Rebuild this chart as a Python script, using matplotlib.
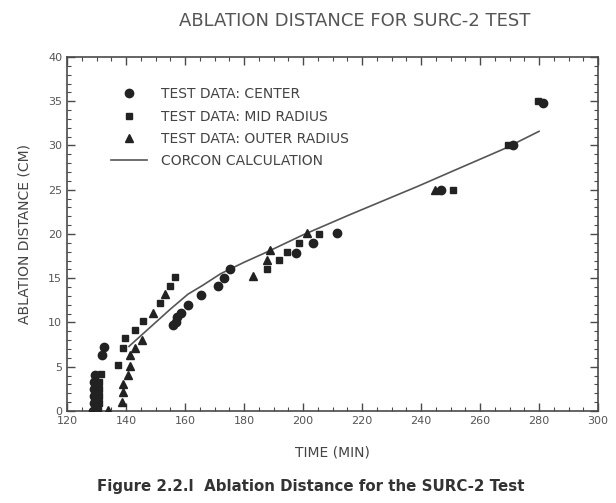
import matplotlib
matplotlib.use("Agg")
import matplotlib.pyplot as plt
from matplotlib.ticker import MultipleLocator

# Test data: center thermocouple (time in min, ablation distance in cm)
center_t = [128.8, 129.0, 129.0, 129.2, 129.3, 129.5, 131.8, 132.5,
            156.0, 156.8, 157.4, 158.5, 161.1, 165.4, 171.3, 173.3, 175.3,
            197.6, 203.3, 211.4, 246.9, 271.3, 281.5]
center_d = [0.0, 0.9, 1.7, 2.5, 3.3, 4.1, 6.3, 7.2,
            9.7, 10.1, 10.6, 11.1, 12.0, 13.1, 14.1, 15.0, 16.0,
            17.8, 19.0, 20.1, 25.0, 30.0, 34.8]

# Test data: mid radius
mid_t = [130.6, 130.8, 130.8, 130.8, 131.0, 131.5, 137.4, 139.1, 139.7,
         143.1, 145.9, 151.5, 154.9, 156.6,
         187.7, 192.0, 194.5, 198.7, 205.5, 250.8, 269.6, 279.8]
mid_d = [0.1, 0.9, 1.7, 2.5, 3.3, 4.2, 5.2, 7.1, 8.2,
         9.15, 10.2, 12.2, 14.1, 15.1,
         16.0, 17.1, 18.0, 19.0, 20.0, 25.0, 30.0, 35.0]

# Test data: outer radius
outer_t = [133.8, 138.5, 139.1, 139.1, 140.8, 141.4, 141.4, 143.1, 145.3,
           149.3, 153.2, 183.2, 187.7, 188.8, 201.2, 244.7]
outer_d = [0.1, 1.05, 2.2, 3.1, 4.1, 5.1, 6.3, 7.1, 8.0,
           11.1, 13.2, 15.2, 17.1, 18.2, 20.1, 25.0]

# CORCON calculation
calc_t = [141, 148, 155, 161, 166, 172, 180, 188, 200, 216, 239, 250, 268, 280]
calc_d = [7.3, 9.4, 11.5, 13.2, 14.2, 15.5, 16.8, 18.0, 19.9, 22.2, 25.4, 27.0, 29.6, 31.6]

x_ticks = [120, 140, 160, 180, 200, 220, 240, 260, 280, 300]
y_ticks = [0, 5, 10, 15, 20, 25, 30, 35, 40]

ink = "#222222"
gray = "#4a4a4a"

fig = plt.figure(figsize=(6.16, 5.03), dpi=100)
fig.patch.set_facecolor("white")
ax = fig.add_axes([0.1088, 0.1829, 0.862, 0.7038])

ax.plot(calc_t, calc_d, color="#555555", lw=1.2, label="CORCON CALCULATION", zorder=2)
ax.plot(center_t, center_d, "o", ms=6, color=ink, mec=ink, ls="none",
        label="TEST DATA: CENTER", zorder=3)
ax.plot(mid_t, mid_d, "s", ms=4.6, color=ink, mec=ink, ls="none",
        label="TEST DATA: MID RADIUS", zorder=3)
ax.plot(outer_t, outer_d, "^", ms=5.5, color=ink, mec=ink, ls="none",
        label="TEST DATA: OUTER RADIUS", zorder=3)

ax.set_xlim(120, 300)
ax.set_ylim(0, 40)
ax.set_xticks(x_ticks)
ax.set_yticks(y_ticks)
ax.xaxis.set_minor_locator(MultipleLocator(5))
ax.yaxis.set_minor_locator(MultipleLocator(1))
ax.tick_params(which="both", direction="in", top=True, right=True,
               colors=gray, labelcolor="#555555", labelsize=8)
ax.tick_params(which="major", length=6, width=1)
ax.tick_params(which="minor", length=3, width=0.8)
for s in ax.spines.values():
    s.set_color(gray)
    s.set_linewidth(1.2)

ax.set_xlabel("TIME (MIN)", fontsize=10, color="#444444", labelpad=14)
ax.set_ylabel("ABLATION DISTANCE (CM)", fontsize=10, color="#444444", labelpad=12)

handles, labels = ax.get_legend_handles_labels()
order = [1, 2, 3, 0]
leg = ax.legend([handles[i] for i in order], [labels[i] for i in order],
                loc="upper left", bbox_to_anchor=(0.06, 0.95), frameon=False,
                fontsize=10, handlelength=2.6, labelspacing=0.6,
                handletextpad=1.0)
for t in leg.get_texts():
    t.set_color("#444444")

fig.text(0.575, 0.958, "ABLATION DISTANCE FOR SURC-2 TEST", ha="center", va="center",
         fontsize=13, color="#555555")
fig.text(0.505, 0.032, "Figure 2.2.l  Ablation Distance for the SURC-2 Test",
         ha="center", va="center", fontsize=10.8, color="#333333",
         fontweight="bold")

fig.savefig("out.png", dpi=100, facecolor="white")
